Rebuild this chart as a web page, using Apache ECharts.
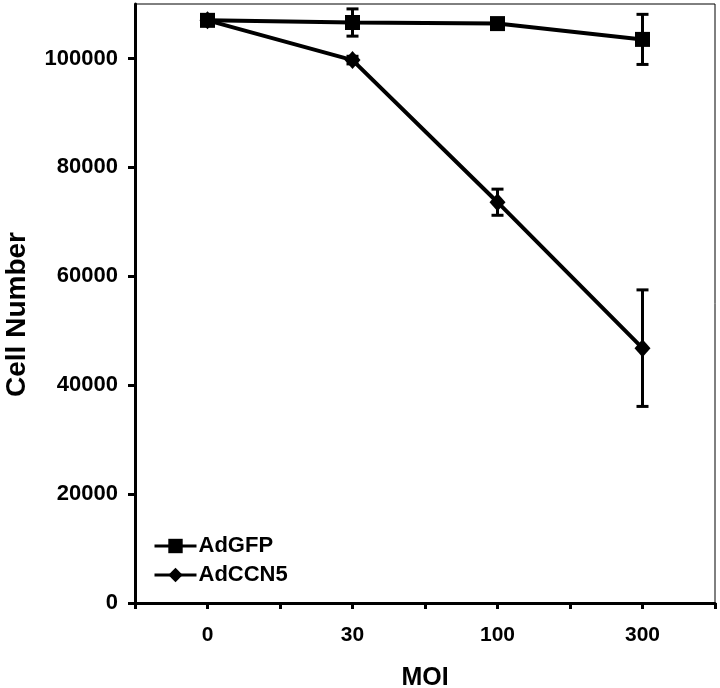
<!DOCTYPE html>
<html>
<head>
<meta charset="utf-8">
<script src="https://cdn.jsdelivr.net/npm/echarts@6/dist/echarts.min.js"></script>
<style>
  html, body { margin: 0; padding: 0; background: #fff; }
  #chart { width: 720px; height: 688px; }
</style>
</head>
<body>
<div id="chart"></div>
<script>
const moiLabels = ['0', '30', '100', '300'];
const gfpMean = [107000, 106600, 106400, 103500];
const gfpErr = [400, 2500, 600, 4600];
const ccnMean = [107000, 99700, 73600, 46800];
const ccnErr = [400, 700, 2400, 10700];
const yTicks = [0, 20000, 40000, 60000, 80000, 100000];

const font = 'Liberation Sans, Arial, sans-serif';

const toPoints = (means) => means.map((m, i) => [i, m]);
const toBars = (means, errs) => means.map((m, i) => [i, m - errs[i], m + errs[i]]);

const errorBar = (name, data) => ({
  name: name,
  type: 'custom',
  data: data,
  z: 5,
  silent: true,
  renderItem: (params, api) => {
    const x = api.value(0);
    const lo = api.coord([x, api.value(1)]);
    const hi = api.coord([x, api.value(2)]);
    const w = 6;
    const style = { stroke: '#000', lineWidth: 3 };
    return {
      type: 'group',
      children: [
        { type: 'line', shape: { x1: lo[0], y1: lo[1], x2: hi[0], y2: hi[1] }, style },
        { type: 'line', shape: { x1: hi[0] - w, y1: hi[1], x2: hi[0] + w, y2: hi[1] }, style },
        { type: 'line', shape: { x1: lo[0] - w, y1: lo[1], x2: lo[0] + w, y2: lo[1] }, style },
      ],
    };
  },
});

const chart = echarts.init(document.getElementById('chart'));
chart.setOption({
  animation: false,
  backgroundColor: '#fff',
  textStyle: { fontFamily: font },
  grid: {
    left: 135, right: 5, top: 4, bottom: 85,
    outerBoundsMode: 'none',
    containLabel: false,
    show: true, borderColor: '#000', borderWidth: 1,
  },
  legend: {
    data: ['AdGFP', 'AdCCN5'],
    orient: 'vertical',
    left: 148,
    top: 530,
    itemWidth: 42,
    itemHeight: 18,
    itemGap: 7,
    textStyle: { fontFamily: font, fontWeight: 'bold', fontSize: 22, color: '#000', padding: [0, 0, 0, -3] },
    lineStyle: { width: 3 },
  },
  xAxis: {
    type: 'value',
    min: -0.5,
    max: 3.5,
    interval: 0.5,
    name: 'MOI',
    nameLocation: 'middle',
    nameGap: 63,
    nameTextStyle: { fontFamily: font, fontWeight: 'bold', fontSize: 25, color: '#000' },
    axisLine: { onZero: false, lineStyle: { color: '#000', width: 3 } },
    axisTick: { length: 6, lineStyle: { color: '#000', width: 3 } },
    axisLabel: {
      customValues: [0, 1, 2, 3],
      formatter: (v) => moiLabels[Math.round(v)],
      margin: 22,
      fontFamily: font, fontWeight: 'bold', fontSize: 21, color: '#000',
    },
    splitLine: { show: false },
  },
  yAxis: {
    type: 'value',
    min: 0,
    max: 110000,
    interval: 20000,
    name: 'Cell Number',
    nameLocation: 'middle',
    nameGap: 104,
    nameTextStyle: { fontFamily: font, fontWeight: 'bold', fontSize: 28, color: '#000', padding: [0, 22, 0, 0] },
    axisLine: { show: true, onZero: false, lineStyle: { color: '#000', width: 3 } },
    axisTick: { show: true, customValues: yTicks, length: 7, lineStyle: { color: '#000', width: 3 } },
    axisLabel: {
      customValues: yTicks,
      formatter: (v) => String(v),
      margin: 17,
      fontFamily: font, fontWeight: 'bold', fontSize: 22, color: '#000',
    },
    splitLine: { show: false },
  },
  series: [
    {
      name: 'AdGFP',
      type: 'line',
      data: toPoints(gfpMean),
      symbol: 'rect',
      symbolSize: 15,
      z: 4,
      lineStyle: { color: '#000', width: 4 },
      itemStyle: { color: '#000', borderWidth: 0 },
    },
    {
      name: 'AdCCN5',
      type: 'line',
      data: toPoints(ccnMean),
      symbol: 'diamond',
      symbolSize: [16, 18],
      z: 4,
      lineStyle: { color: '#000', width: 4 },
      itemStyle: { color: '#000', borderWidth: 0 },
    },
    errorBar('AdGFP err', toBars(gfpMean, gfpErr)),
    errorBar('AdCCN5 err', toBars(ccnMean, ccnErr)),
  ],
});
</script>
</body>
</html>
